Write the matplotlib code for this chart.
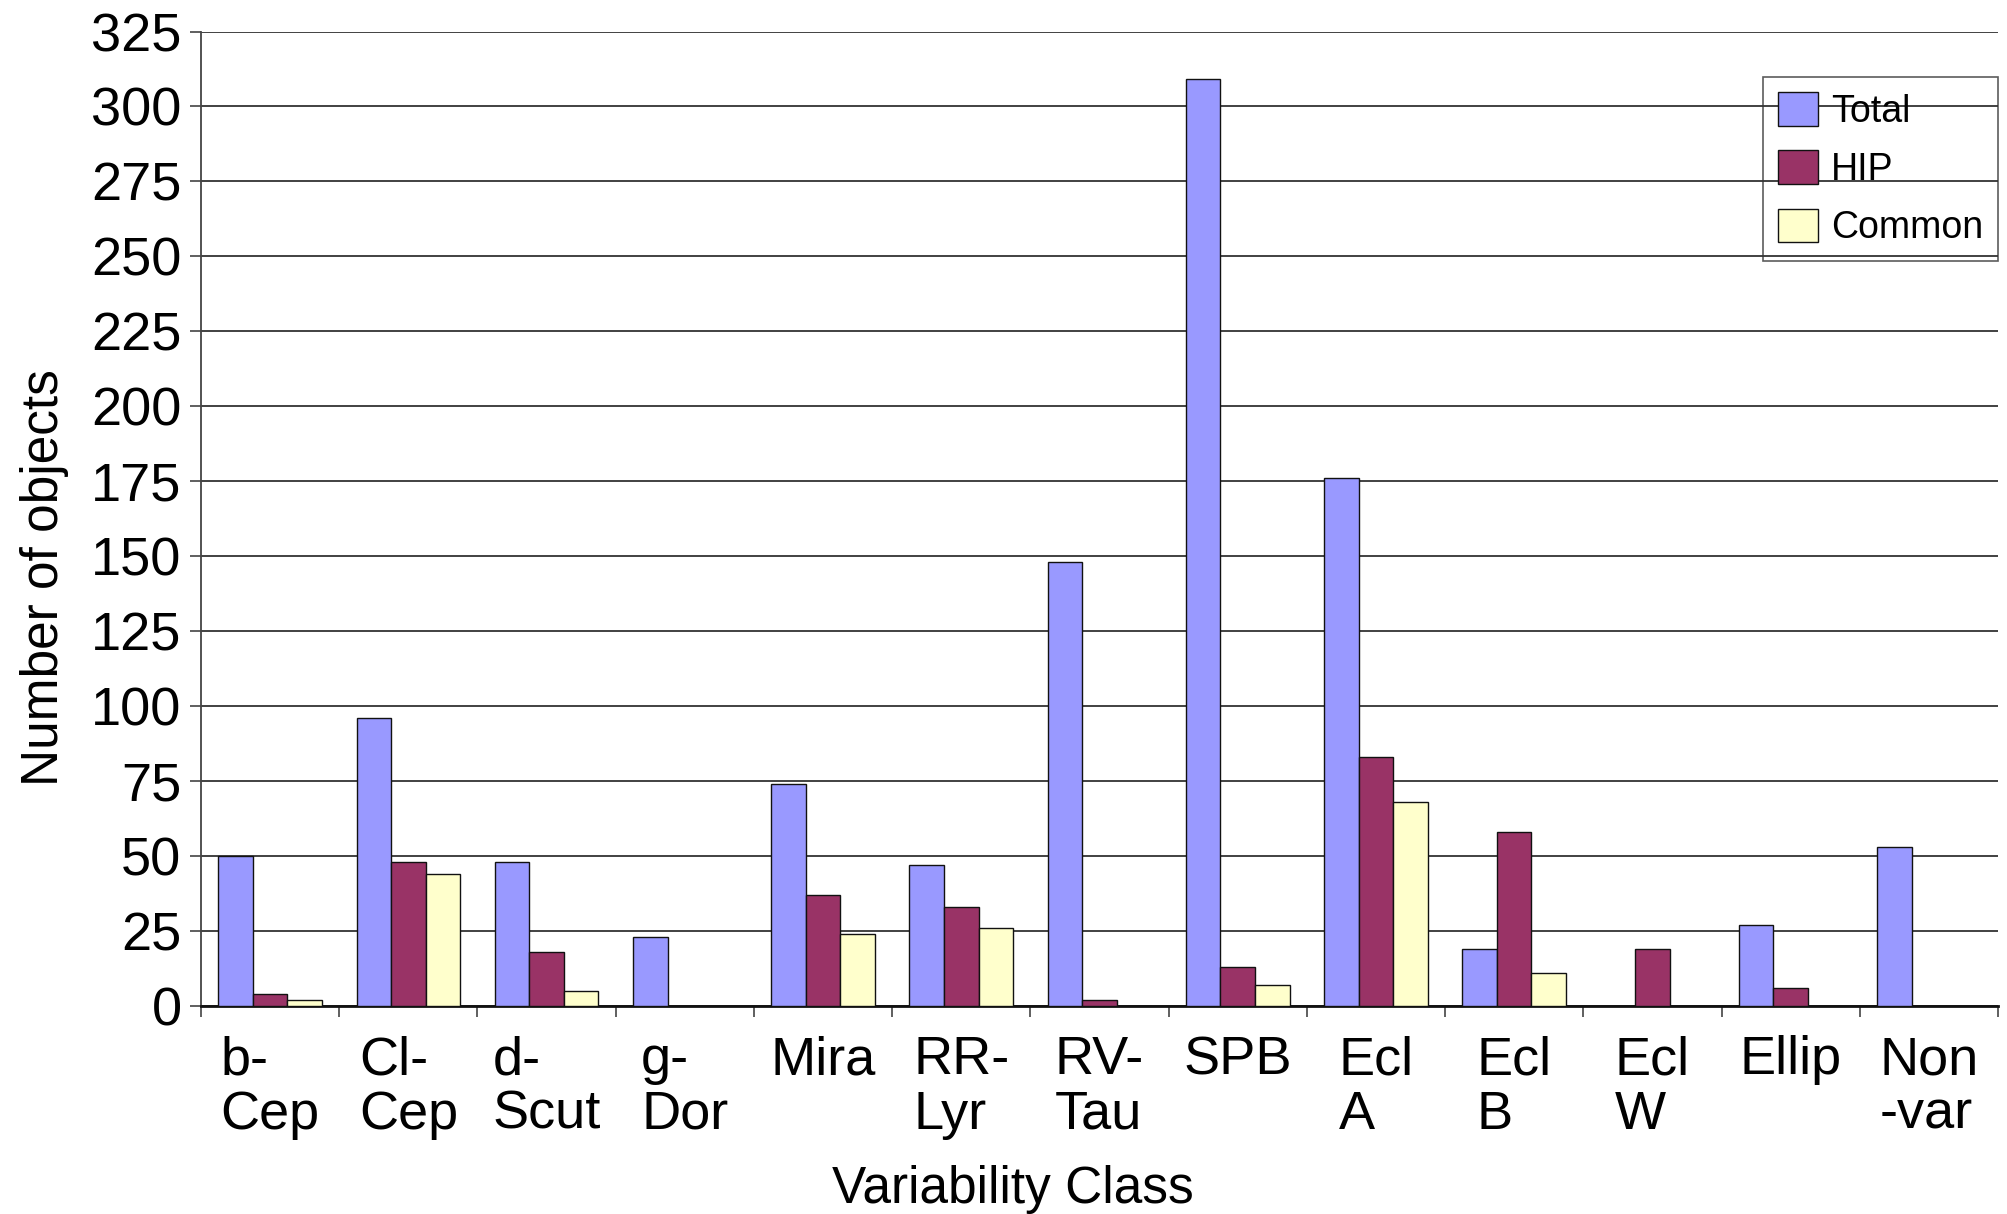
import matplotlib
matplotlib.use("Agg")
import matplotlib.pyplot as plt
import numpy as np

# Counts of objects per variability class
categories = ["b-\nCep", "Cl-\nCep", "d-\nScut", "g-\nDor", "Mira", "RR-\nLyr",
              "RV-\nTau", "SPB", "Ecl\nA", "Ecl\nB", "Ecl\nW", "Ellip", "Non\n-var"]
total = [50, 96, 48, 23, 74, 47, 148, 309, 176, 19, 0, 27, 53]
hip = [4, 48, 18, 0, 37, 33, 2, 13, 83, 58, 19, 6, 0]
common = [2, 44, 5, 0, 24, 26, 0, 7, 68, 11, 0, 0, 0]
series_names = ["Total", "HIP", "Common"]
series_colors = ["#9999FF", "#993366", "#FFFFCC"]
yticks = list(range(0, 326, 25))

plt.rcParams["font.family"] = ["Liberation Sans", "DejaVu Sans"]

W, H = 2007, 1214
fig = plt.figure(figsize=(W / 100, H / 100), dpi=100)
left, right, bottom, top = 201, 1998, 1006, 31.5
ax = fig.add_axes([left / W, 1 - bottom / H, (right - left) / W, (bottom - top) / H])

x = np.arange(len(categories))
bw = 0.25
for k, (vals, name, col) in enumerate(zip([total, hip, common], series_names, series_colors)):
    ax.bar(x + (k - 1) * bw, vals, width=bw, color=col, edgecolor="#111111",
           linewidth=1.0, label=name, zorder=3)

ax.set_xlim(-0.5, len(categories) - 0.5)
ax.set_ylim(0, 325)
ax.set_yticks(yticks)
ax.tick_params(axis="y", labelsize=39, length=8, width=1.2, color="#444444", pad=6)
ax.grid(axis="y", color="#333333", linewidth=1.3, zorder=0)
ax.set_axisbelow(True)

# boundaries get tick marks, centres carry the labels
ax.set_xticks(np.arange(len(categories) + 1) - 0.5)
ax.set_xticklabels([])
ax.tick_params(axis="x", which="major", length=8, width=1.2, color="#444444")
ax.set_xticks(x, minor=True)
ax.set_xticklabels(categories, minor=True)
ax.tick_params(axis="x", which="minor", length=0, labelsize=39, pad=21)
for t in ax.get_xticklabels(minor=True):
    t.set_multialignment("left")
    t.set_linespacing(1.12)

for s in ["top", "right"]:
    ax.spines[s].set_visible(False)
ax.spines["left"].set_color("#444444")
ax.spines["left"].set_linewidth(1.3)
ax.spines["bottom"].set_color("#111111")
ax.spines["bottom"].set_linewidth(2.0)

fig.text(1013 / W, 1 - 1203 / H, "Variability Class", fontsize=37,
         ha="center", va="baseline")
fig.text(45 / W, 1 - 578 / H, "Number of objects", fontsize=37,
         ha="center", va="center", rotation=90)

leg = ax.legend(loc="upper right", bbox_to_anchor=(1998 / W, 1 - 77 / H),
                bbox_transform=fig.transFigure, fontsize=27, frameon=True,
                fancybox=False, handlelength=1.05, handleheight=1.0,
                handletextpad=0.35, labelspacing=0.55, borderpad=0.4,
                borderaxespad=0)
frame = leg.get_frame()
frame.set_facecolor("none")
frame.set_edgecolor("#333333")
frame.set_linewidth(1.2)

fig.savefig("out.png", dpi=100)
